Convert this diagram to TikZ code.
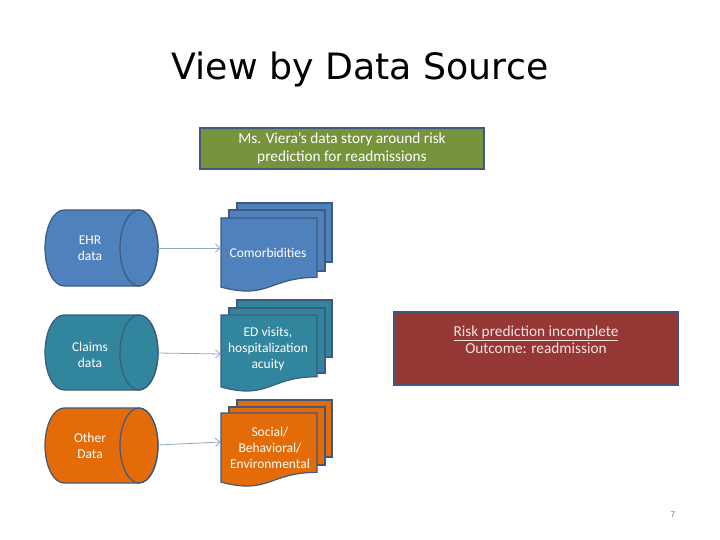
\documentclass[tikz,border=0pt]{standalone}
\usepackage{fontspec}
\setmainfont{Carlito}
\newfontfamily\titlefont{DejaVu Sans}
\usetikzlibrary{arrows.meta}
\definecolor{ehrfill}{HTML}{4F81BD}
\definecolor{clmfill}{HTML}{31859C}
\definecolor{othfill}{HTML}{E36C09}
\definecolor{shapeline}{HTML}{3F5A7E}
\definecolor{greenfill}{HTML}{77933C}
\definecolor{redfill}{HTML}{953735}
\definecolor{redtext}{HTML}{F6E4E3}
\definecolor{arrowcol}{HTML}{8FA8C8}
\newcommand\cylshape[4]{% #1 left x, #2 top y, #3 bottom y, #4 fill
  \pgfmathsetmacro\cyry{(#3-#2)/2}
  \draw[cylstyle, fill=#4] ({#1+19},#2) -- (139,#2)
     arc[start angle=270, end angle=450, x radius=19, y radius=\cyry]
     -- ({#1+19},#3)
     arc[start angle=90, end angle=270, x radius=19, y radius=\cyry] -- cycle;
  \draw[cylstyle] (139,{(#2+#3)/2}) ellipse[x radius=19, y radius=\cyry];
}
\newcommand\docstack[8]{% #1 left x, #2 front top, #3 front h, #4/#5 page2 top/bottom, #6/#7 page3 top/bottom, #8 fill
  \draw[docstyle, fill=#8] ({#1+16},#6) rectangle ({#1+111},#7);
  \draw[docstyle, fill=#8] ({#1+8},#4) rectangle ({#1+104},#5);
  \draw[docstyle, fill=#8] (#1,#2) -- ({#1+96},#2) -- ({#1+96},{#2+0.802*#3})
     .. controls ({#1+48},{#2+0.802*#3}) and ({#1+48},{#2+1.107*#3}) .. (#1,{#2+0.934*#3}) -- cycle;
}
\tikzset{
  cylstyle/.style={draw=shapeline, line width=1.2pt, line join=round},
  docstyle/.style={draw=shapeline, line width=1.2pt, line join=miter},
  intext/.style={text=white, font=\fontsize{13.5}{15.8}\selectfont, align=center, inner sep=0pt},
  link/.style={draw=arrowcol, line width=0.8pt, -{Straight Barb[length=5pt,width=8pt]}},
}
\begin{document}
\begin{tikzpicture}[x=1pt, y=-1pt]
\useasboundingbox (0,0) rectangle (720,540);
\node[font=\titlefont\fontsize{36.3}{40}\selectfont, anchor=base] (title) at (360,80) {View by Data Source};

\node[draw=shapeline, line width=1.2pt, fill=greenfill, minimum width=284pt, minimum height=41pt,
      text=white, font=\fontsize{15.3}{18.5}\selectfont, align=center, inner sep=0pt] (story) at (342,148.5)
      {Ms. Viera’s data story around risk\\prediction for readmissions};

% cylinders
\cylshape{45}{210}{286}{ehrfill}
\cylshape{45}{315}{390}{clmfill}
\cylshape{45}{408}{483}{othfill}
\node[intext] (ehr) at (90,248) {EHR\\data};
\node[intext] (claims) at (90,355) {Claims\\data};
\node[intext] (other) at (90,446) {Other\\Data};
\coordinate (ehr-out) at (158,248);
\coordinate (claims-out) at (158,353);
\coordinate (other-out) at (158,445);

% document stacks
\docstack{221}{218}{74}{210}{271}{203}{262}{ehrfill}
\docstack{221}{315}{77}{308}{373}{300}{357}{clmfill}
\docstack{221}{413}{74}{407}{465}{400}{457}{othfill}
\node[intext] (comorb) at (268,253) {Comorbidities};
\node[intext] (ed) at (268,349) {ED visits,\\hospitalization\\acuity};
\node[intext] (social) at (270,448) {Social/\\Behavioral/\\Environmental};
\coordinate (comorb-in) at (221,248);
\coordinate (ed-in) at (221,354);
\coordinate (social-in) at (221,442);

\draw[link] (ehr-out) -- (comorb-in);
\draw[link] (claims-out) -- (ed-in);
\draw[link] (other-out) -- (social-in);

% outcome box
\node[draw=shapeline, line width=1.2pt, fill=redfill, minimum width=284pt, minimum height=73pt,
      inner sep=0pt] (outcome) at (536,348.5) {};
\node[text=redtext, font=\fontsize{15.3}{17.5}\selectfont, align=center, inner sep=0pt] (outtext) at (536,339.5)
      {\underline{Risk prediction incomplete}\\Outcome: readmission};

\node[text=gray, font=\titlefont\fontsize{8}{10}\selectfont] (pageno) at (673,515) {7};
\end{tikzpicture}
\end{document}
